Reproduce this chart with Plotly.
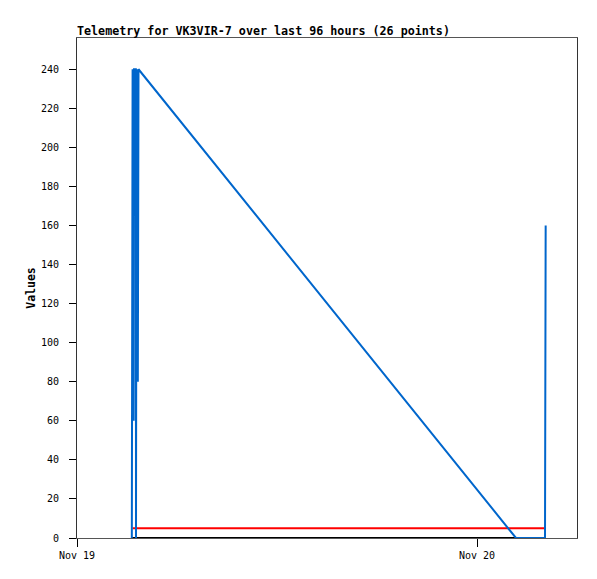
import plotly.graph_objects as go

# Blue telemetry channel
blue_times = [
    "2024-11-19 03:17:24", "2024-11-19 03:18:00", "2024-11-19 03:20:10",
    "2024-11-19 03:24:00", "2024-11-19 03:25:12", "2024-11-19 03:31:48",
    "2024-11-19 03:32:24", "2024-11-19 03:34:30", "2024-11-19 03:39:00",
    "2024-11-19 03:41:24", "2024-11-20 02:20:24", "2024-11-20 04:04:48",
    "2024-11-20 04:07:12",
]
blue_values = [0, 120, 240, 60, 240, 240, 0, 240, 80, 240, 0, 0, 160]

# Red telemetry channel
red_times = ["2024-11-19 03:20:10", "2024-11-20 04:07:12"]
red_values = [5, 5]

# Black telemetry channel
black_times = ["2024-11-19 03:17:24", "2024-11-20 04:07:12"]
black_values = [0, 0]

x_tick_vals = ["2024-11-19 00:00", "2024-11-20 00:00"]
x_tick_text = ["Nov 19", "Nov 20"]
y_tick_vals = list(range(0, 241, 20))

fig = go.Figure()
fig.add_trace(go.Scatter(x=black_times, y=black_values, mode="lines",
                         line=dict(color="#000000", width=2), showlegend=False))
fig.add_trace(go.Scatter(x=red_times, y=red_values, mode="lines",
                         line=dict(color="#FF0000", width=2), showlegend=False))
fig.add_trace(go.Scatter(x=blue_times, y=blue_values, mode="lines",
                         line=dict(color="#0066CC", width=2), showlegend=False))

mono = "DejaVu Sans Mono"
# page body has an 8px margin; offsets below compensate for it
fig.update_layout(
    width=597, height=579,
    margin=dict(l=69, r=28, t=30, b=49),
    paper_bgcolor="white", plot_bgcolor="white",
    title=dict(text="<b>Telemetry for VK3VIR-7 over last 96 hours (26 points)</b>",
               font=dict(family=mono, size=11.7, color="black"),
               xref="container", yref="container",
               x=69/597, xanchor="left", y=1-23/579, yanchor="middle"),
    xaxis=dict(type="date", range=["2024-11-19 00:00", "2024-11-20 06:00"],
               tickvals=x_tick_vals, ticktext=x_tick_text,
               showgrid=False, zeroline=False,
               showline=True, linecolor="#555555", linewidth=1, mirror=True,
               ticks="outside", ticklen=8, tickcolor="black",
               tickfont=dict(family=mono, size=10, color="black")),
    yaxis=dict(range=[0, 256], tickvals=y_tick_vals,
               showgrid=False, zeroline=False,
               showline=True, linecolor="#333333", linewidth=1, mirror=True,
               ticks="outside", ticklen=7, tickcolor="black",
               ticklabelstandoff=8,
               tickfont=dict(family=mono, size=10, color="black"),
               title=dict(text="<b>Values</b>", standoff=2,
                          font=dict(family=mono, size=11.5, color="black"))),
)

fig.write_html("out.html")
